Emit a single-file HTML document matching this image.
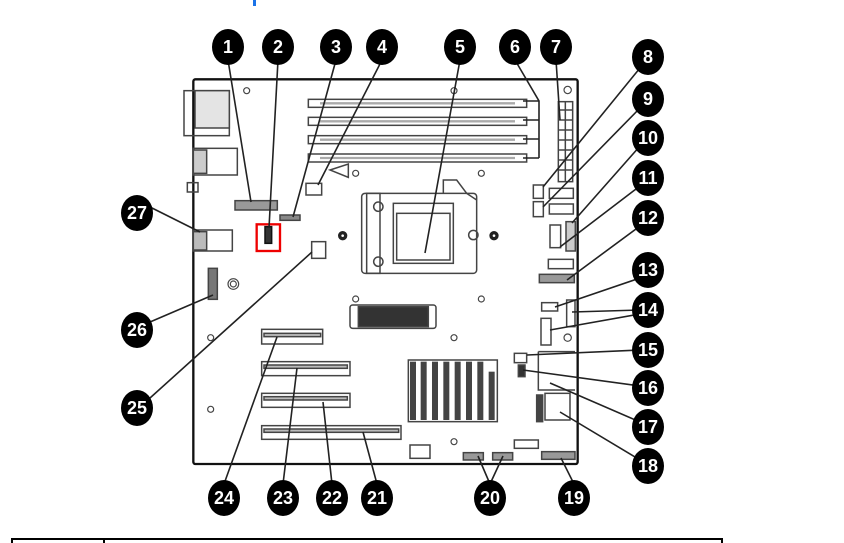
<!DOCTYPE html>
<html><head><meta charset="utf-8"><style>
html,body{margin:0;padding:0;background:#fff;width:844px;height:543px;overflow:hidden}
svg{display:block}
.b text{font-family:"Liberation Sans",sans-serif;font-weight:bold;font-size:18px;fill:#fff;text-anchor:middle}
</style></head><body>
<svg width="844" height="543" viewBox="0 0 844 543">
<rect x="253" y="0" width="3" height="6" fill="#1a73e8"/>
<g transform="translate(180,60) scale(0.33333)" fill="none" stroke="#444" stroke-width="4.5">
<rect x="40" y="58" width="1153" height="1154" rx="6" stroke="#111" stroke-width="7"/>
<rect x="12" y="92" width="136" height="135"/><rect x="45" y="92" width="103" height="112" fill="#e4e4e4"/>
<rect x="40" y="265" width="132" height="80"/><rect x="40" y="270" width="40" height="70" fill="#ccc"/>
<rect x="22" y="368" width="32" height="28"/>
<g stroke-width="3.5"><circle cx="200" cy="92" r="9"/><circle cx="822" cy="92" r="9"/><circle cx="527" cy="340" r="9"/><circle cx="904" cy="340" r="9"/><circle cx="527" cy="717" r="9"/><circle cx="904" cy="717" r="9"/><circle cx="92" cy="833" r="9"/><circle cx="822" cy="833" r="9"/><circle cx="92" cy="1048" r="9"/><circle cx="822" cy="1145" r="9"/><circle cx="1163" cy="90" r="11"/><circle cx="1163" cy="833" r="11"/><circle cx="160" cy="672" r="16"/><circle cx="160" cy="672" r="9"/></g>
<g stroke="#222" stroke-width="10"><circle cx="488" cy="527" r="9"/><circle cx="942" cy="527" r="9"/></g>
<g><rect x="385" y="118" width="655" height="24"/><rect x="385" y="172" width="655" height="24"/><rect x="385" y="227" width="655" height="24"/><rect x="385" y="282" width="655" height="24"/>
<line x1="420" y1="130" x2="1005" y2="130" stroke="#aaa" stroke-width="7"/><line x1="420" y1="184" x2="1005" y2="184" stroke="#aaa" stroke-width="7"/><line x1="420" y1="239" x2="1005" y2="239" stroke="#aaa" stroke-width="7"/><line x1="420" y1="294" x2="1005" y2="294" stroke="#aaa" stroke-width="7"/></g>
<rect x="1135" y="125" width="43" height="240"/>
<path d="M1135 150H1178M1135 180H1178M1135 210H1178M1135 240H1178M1135 270H1178M1135 300H1178M1135 330H1178M1156 125V365"/>
<path d="M450 330L505 312L505 352Z"/>
<rect x="378" y="370" width="47" height="35"/>
<rect x="165" y="422" width="127" height="28" fill="#999"/>
<rect x="300" y="465" width="60" height="16" fill="#888"/>
<rect x="255" y="500" width="20" height="50" fill="#333" stroke="#111"/>
<rect x="230" y="493" width="70" height="80" stroke="#e00" stroke-width="7"/>
<rect x="40" y="510" width="117" height="63"/><rect x="40" y="515" width="40" height="55" fill="#bbb"/>
<rect x="85" y="625" width="27" height="93" fill="#777"/>
<rect x="395" y="545" width="42" height="50"/>
<rect x="545" y="400" width="345" height="240" rx="10"/>
<rect x="640" y="430" width="180" height="180"/><rect x="650" y="460" width="160" height="140"/>
<path d="M790 400V360H830L860 400L890 420"/>
<rect x="560" y="400" width="40" height="240"/>
<circle cx="595" cy="440" r="14"/><circle cx="595" cy="605" r="14"/><circle cx="880" cy="525" r="14"/>
<rect x="510" y="735" width="258" height="70" rx="8"/>
<rect x="535" y="740" width="210" height="60" fill="#333"/>
<rect x="245" y="808" width="183" height="44"/><rect x="252" y="820" width="170" height="10" fill="#bbb"/>
<rect x="245" y="905" width="265" height="42"/><rect x="252" y="915" width="250" height="10" fill="#bbb"/>
<rect x="245" y="1000" width="265" height="42"/><rect x="252" y="1010" width="250" height="10" fill="#bbb"/>
<rect x="245" y="1097" width="418" height="41"/><rect x="252" y="1107" width="404" height="10" fill="#bbb"/>
<rect x="685" y="900" width="267" height="185"/>
<g fill="#444" stroke="none"><rect x="690" y="905" width="18" height="175"/><rect x="722" y="905" width="18" height="175"/><rect x="756" y="905" width="18" height="175"/><rect x="790" y="905" width="18" height="175"/><rect x="824" y="905" width="18" height="175"/><rect x="858" y="905" width="18" height="175"/><rect x="892" y="905" width="18" height="175"/><rect x="926" y="935" width="18" height="145"/></g>
<rect x="1060" y="375" width="30" height="40"/><rect x="1060" y="425" width="30" height="45"/>
<rect x="1108" y="385" width="72" height="30"/><rect x="1108" y="432" width="72" height="30"/>
<rect x="1110" y="495" width="32" height="68"/><rect x="1158" y="485" width="28" height="88" fill="#ccc"/>
<rect x="1105" y="598" width="75" height="28"/><rect x="1078" y="643" width="105" height="25" fill="#999"/>
<rect x="1085" y="728" width="48" height="25"/><rect x="1160" y="720" width="25" height="80"/>
<rect x="1083" y="775" width="30" height="80"/>
<rect x="1003" y="880" width="37" height="28"/><rect x="1015" y="915" width="20" height="35" fill="#333"/>
<path d="M1075 875H1185M1075 875V990H1185"/>
<rect x="1070" y="1005" width="18" height="80" fill="#444"/><rect x="1095" y="1000" width="75" height="80"/>
<rect x="1003" y="1140" width="72" height="25"/>
<rect x="850" y="1178" width="60" height="22" fill="#999"/><rect x="938" y="1178" width="60" height="22" fill="#999"/>
<rect x="1085" y="1175" width="100" height="23" fill="#999"/>
<rect x="690" y="1155" width="60" height="40"/>
</g>
<g stroke="#222" stroke-width="1.6" fill="none">
<path d="M228 60L251 202M278 60L269 228M336 60L293 217M382 60L318 185M460 60L425 253"/>
<path d="M515 60L539 101V158M523 101H539M523 120H539M523 139H539M523 158H539"/>
<path d="M556 60L560 120M640 68L543 187M640 108L543 207M640 146L572 223M640 186L560 247M640 226L567 280M640 278L555 307M640 310L572 312M640 314L550 330M640 350L527 355M640 386L523 370M640 422L550 383M640 460L560 412"/>
<path d="M574 484L561 458M490 484L478 456M490 484L503 456M377 484L363 432M332 484L323 402M283 484L297 368M224 484L277 337M150 398L312 252M150 322L213 295M150 207L200 232"/>
</g>
<g class="b">
<g fill="#000"><ellipse cx="228" cy="47" rx="16" ry="18"/><ellipse cx="278" cy="47" rx="16" ry="18"/><ellipse cx="336" cy="47" rx="16" ry="18"/><ellipse cx="382" cy="47" rx="16" ry="18"/><ellipse cx="460" cy="47" rx="16" ry="18"/><ellipse cx="515" cy="47" rx="16" ry="18"/><ellipse cx="556" cy="47" rx="16" ry="18"/>
<ellipse cx="648" cy="57" rx="16" ry="18"/><ellipse cx="648" cy="99" rx="16" ry="18"/><ellipse cx="648" cy="138" rx="16" ry="18"/><ellipse cx="648" cy="178" rx="16" ry="18"/><ellipse cx="648" cy="218" rx="16" ry="18"/><ellipse cx="648" cy="270" rx="16" ry="18"/><ellipse cx="648" cy="310" rx="16" ry="18"/><ellipse cx="648" cy="350" rx="16" ry="18"/><ellipse cx="648" cy="388" rx="16" ry="18"/><ellipse cx="648" cy="427" rx="16" ry="18"/><ellipse cx="648" cy="466" rx="16" ry="18"/>
<ellipse cx="574" cy="498" rx="16" ry="18"/><ellipse cx="490" cy="498" rx="16" ry="18"/><ellipse cx="377" cy="498" rx="16" ry="18"/><ellipse cx="332" cy="498" rx="16" ry="18"/><ellipse cx="283" cy="498" rx="16" ry="18"/><ellipse cx="224" cy="498" rx="16" ry="18"/>
<ellipse cx="137" cy="408" rx="16" ry="18"/><ellipse cx="137" cy="330" rx="16" ry="18"/><ellipse cx="137" cy="213" rx="16" ry="18"/></g>
<text x="228" y="53">1</text><text x="278" y="53">2</text><text x="336" y="53">3</text><text x="382" y="53">4</text><text x="460" y="53">5</text><text x="515" y="53">6</text><text x="556" y="53">7</text>
<text x="648" y="63">8</text><text x="648" y="105">9</text><text x="648" y="144">10</text><text x="648" y="184">11</text><text x="648" y="224">12</text><text x="648" y="276">13</text><text x="648" y="316">14</text><text x="648" y="356">15</text><text x="648" y="394">16</text><text x="648" y="433">17</text><text x="648" y="472">18</text>
<text x="574" y="504">19</text><text x="490" y="504">20</text><text x="377" y="504">21</text><text x="332" y="504">22</text><text x="283" y="504">23</text><text x="224" y="504">24</text>
<text x="137" y="414">25</text><text x="137" y="336">26</text><text x="137" y="219">27</text>
</g>
<path d="M12 543V539H722V543M104 539V543" stroke="#000" stroke-width="2" fill="none"/>
</svg>
</body></html>
